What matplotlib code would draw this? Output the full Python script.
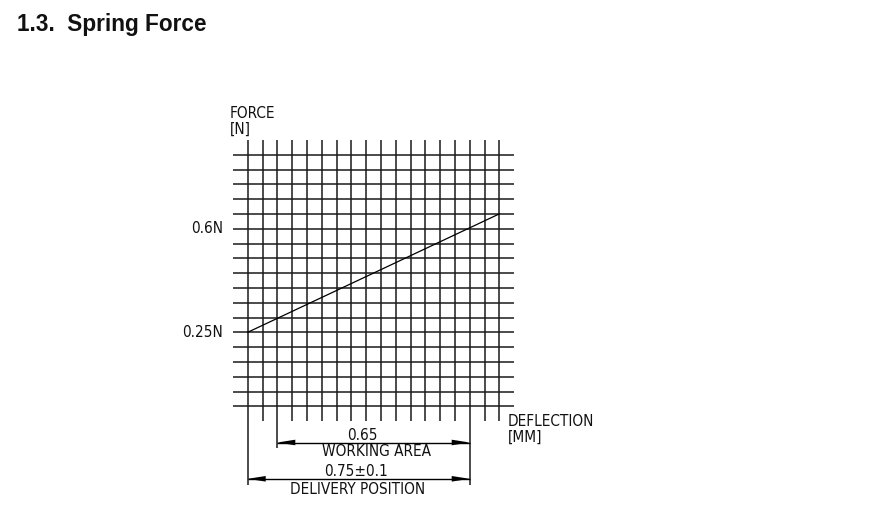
import numpy as np
import matplotlib
matplotlib.use("Agg")
import matplotlib.pyplot as plt
from matplotlib import font_manager as fm

# ---- data ----
grid_step = 0.05
deflection_grid = [round(i * grid_step, 2) for i in range(18)]   # 0 .. 0.85 mm
force_grid = [round(i * grid_step, 2) for i in range(18)]        # 0 .. 0.85 N
curve_deflection = [0.0, 0.85]
curve_force = [0.25, 0.65]
force_tick_values = [0.25, 0.6]
force_tick_labels = ["0.25N", "0.6N"]
working_area = [0.10, 0.75]
working_labels = ["0.65", "WORKING AREA"]
delivery_range = [0.0, 0.75]
delivery_labels = ["0.75\u00b10.1", "DELIVERY POSITION"]
title = "1.3.  Spring Force"

# ---- pick a narrow font if one is installed ----
def pick_narrow():
    narrow = []
    for f in fm.fontManager.ttflist:
        st = str(f.stretch).lower()
        nm = f.name.lower()
        fn = f.fname.lower()
        is_narrow = (st in ("condensed", "semi-condensed", "extra-condensed", "ultra-condensed")
                     or "narrow" in nm or "condensed" in nm or "condensed" in fn or "narrow" in fn)
        if not is_narrow:
            continue
        if f.style != "normal":
            continue
        w = f.weight if isinstance(f.weight, int) else 400
        if w != 400 and str(f.weight) not in ("normal", "regular", "400"):
            continue
        narrow.append(f)
    pref = ["liberation sans narrow", "dejavu sans", "roboto", "open sans", "noto sans", "lato", "inter"]
    for p in pref:
        for f in narrow:
            if f.name.lower().startswith(p):
                return fm.FontProperties(fname=f.fname, size=11)
    if narrow:
        return fm.FontProperties(fname=narrow[0].fname, size=11)
    return fm.FontProperties(family="DejaVu Sans", size=10)

tech_fp = pick_narrow()

# ---- layout (pixel -> data mapping) ----
W, H = 885, 517
X0, Y0, PX_PER_UNIT = 247.7, 406.3, 296.0

def dx(px):
    return (px - X0) / PX_PER_UNIT

def fy(py):
    return (Y0 - py) / PX_PER_UNIT

fig = plt.figure(figsize=(W / 100, H / 100), dpi=100)
ax = fig.add_axes([0, 0, 1, 1])
ax.set_xlim(dx(0), dx(W))
ax.set_ylim(fy(H), fy(0))
ax.axis("off")

tcol = "#111111"
gcol = "#1a1a1a"
ext = grid_step

def ttext(x, y, s, ha="left"):
    ax.text(x, y, s, ha=ha, va="center", fontproperties=tech_fp, color=tcol)

# grid
for f in force_grid:
    ax.plot([deflection_grid[0] - ext, deflection_grid[-1] + ext], [f, f], color=gcol, lw=1.1,
            solid_capstyle="butt")
for d in deflection_grid:
    ax.plot([d, d], [force_grid[0] - ext, force_grid[-1] + ext], color=gcol, lw=1.1,
            solid_capstyle="butt")

# curve
ax.plot(curve_deflection, curve_force, color="black", lw=0.9)

# force tick labels
for v, lab in zip(force_tick_values, force_tick_labels):
    ttext(dx(223), v, lab, ha="right")

# axis labels
ttext(dx(230), fy(113), "FORCE")
ttext(dx(230), fy(129), "[N]")
ttext(dx(508), fy(421), "DEFLECTION")
ttext(dx(508), fy(437), "[MM]")

# extension lines
bottom_grid = force_grid[0] - ext
ax.plot([delivery_range[0]] * 2, [bottom_grid, fy(485)], color=gcol, lw=1.1, solid_capstyle="butt")
ax.plot([working_area[0]] * 2, [bottom_grid, fy(448)], color=gcol, lw=1.1, solid_capstyle="butt")
ax.plot([working_area[1]] * 2, [bottom_grid, fy(485)], color=gcol, lw=1.1, solid_capstyle="butt")

head_len = 18 / PX_PER_UNIT
head_half = 2.8 / PX_PER_UNIT

def dimension(x0, x1, y):
    ax.plot([x0, x1], [y, y], color="black", lw=1.0, solid_capstyle="butt")
    ax.fill([x0, x0 + head_len, x0 + head_len], [y, y + head_half, y - head_half],
            color="black", lw=0)
    ax.fill([x1, x1 - head_len, x1 - head_len], [y, y + head_half, y - head_half],
            color="black", lw=0)

# working area dimension
dimension(working_area[0], working_area[1], fy(442.5))
ttext(dx(362), fy(435), working_labels[0], ha="center")
ttext(dx(376), fy(451.5), working_labels[1], ha="center")

# delivery dimension
dimension(delivery_range[0], delivery_range[1], fy(478.8))
ttext(dx(356), fy(471), delivery_labels[0], ha="center")
ttext(dx(358), fy(489), delivery_labels[1], ha="center")

# title
fig.text(17 / W, 1 - 24 / H, title, ha="left", va="center", fontsize=16.3, fontweight="bold",
         family=["Liberation Sans", "DejaVu Sans"], color="#111111")

fig.savefig("out.png", dpi=100)
